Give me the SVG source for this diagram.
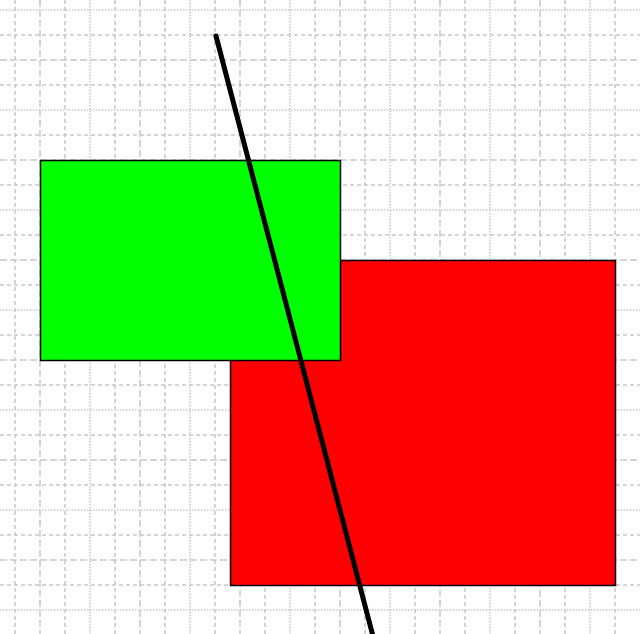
<svg xmlns="http://www.w3.org/2000/svg" width="640" height="634" viewBox="0 0 640 634">
<style>
.g{stroke:#c8c8c8;stroke-width:1.5;fill:none}
.dot{stroke-dasharray:1.5 1.5}
.sd{stroke-dasharray:4 3}
.ld{stroke-dasharray:7 3}
.box{stroke:#000;stroke-width:1.5}
</style>
<rect width="640" height="634" fill="#fff"/>
<g id="grid">
<g class="g dot">
<path d="M0 10H640M0 110H640M0 210H640M0 310H640M0 410H640M0 510H640M0 610H640"/>
<path d="M90 0V634M190 0V634M290 0V634M390 0V634M490 0V634M590 0V634"/>
</g>
<g class="g sd">
<path d="M0 35H640M0 85H640M0 135H640M0 185H640M0 235H640M0 285H640M0 335H640M0 385H640M0 435H640M0 485H640M0 535H640M0 585H640"/>
<path d="M15 0V634M65 0V634M115 0V634M165 0V634M215 0V634M265 0V634M315 0V634M365 0V634M415 0V634M465 0V634M515 0V634M565 0V634M615 0V634"/>
</g>
<g class="g ld">
<path d="M0 60H640M0 160H640M0 260H640M0 360H640M0 460H640M0 560H640"/>
<path d="M40 0V634M140 0V634M240 0V634M340 0V634M440 0V634M540 0V634"/>
</g>
</g>
<g id="red">
<rect class="box" x="230.5" y="260.5" width="385" height="325" fill="#ff0000"/>
</g>
<g id="green">
<rect class="box" x="40.5" y="160.5" width="300" height="200" fill="#00ff00"/>
</g>
<g id="connectors">
<line x1="216" y1="36" x2="374" y2="640" stroke="#000" stroke-width="5" stroke-linecap="round"/>
</g>
</svg>
